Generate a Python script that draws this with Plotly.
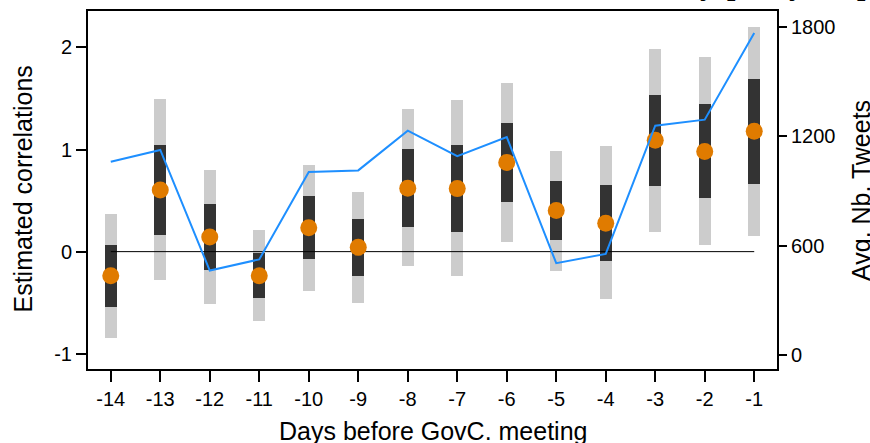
import plotly.graph_objects as go

days = [-14, -13, -12, -11, -10, -9, -8, -7, -6, -5, -4, -3, -2, -1]
estimate = [-0.237, 0.604, 0.143, -0.237, 0.234, 0.042, 0.620, 0.617, 0.873, 0.402, 0.279, 1.091, 0.980, 1.178]
ci90_low = [-0.540, 0.162, -0.178, -0.455, -0.075, -0.234, 0.240, 0.188, 0.484, 0.110, -0.091, 0.640, 0.523, 0.665]
ci90_high = [0.065, 1.049, 0.470, -0.013, 0.542, 0.315, 1.006, 1.049, 1.263, 0.691, 0.655, 1.535, 1.444, 1.691]
ci95_low = [-0.844, -0.282, -0.509, -0.682, -0.386, -0.506, -0.143, -0.243, 0.091, -0.185, -0.467, 0.192, 0.062, 0.153]
ci95_high = [0.367, 1.497, 0.795, 0.211, 0.850, 0.587, 1.392, 1.480, 1.655, 0.983, 1.032, 1.986, 1.905, 2.204]
avg_tweets = [1060, 1125, 464, 525, 1004, 1013, 1231, 1091, 1196, 504, 555, 1258, 1291, 1767]

x_ticklabels = [str(d) for d in days]
y_ticks = [-1, 0, 1, 2]
y_ticklabels = ["-1", "0", "1", "2"]
y2_ticks = [0, 600, 1200, 1800]
y2_ticklabels = ["0", "600", "1200", "1800"]

# fragments of the page text cut off above the chart (only descenders visible)
top_fragments = ["y", "p", "y", "p"]
top_fragment_px = [707, 735, 796, 865]

FONT = "Liberation Sans, Arial, sans-serif"
fig = go.Figure()

fig.add_trace(go.Bar(
    x=days, y=[h - l for h, l in zip(ci95_high, ci95_low)], base=ci95_low,
    width=0.24, marker=dict(color="#cccccc", line=dict(width=0)),
    showlegend=False, hoverinfo="skip"))
fig.add_trace(go.Bar(
    x=days, y=[h - l for h, l in zip(ci90_high, ci90_low)], base=ci90_low,
    width=0.24, marker=dict(color="#333333", line=dict(width=0)),
    showlegend=False, hoverinfo="skip"))
fig.add_trace(go.Scatter(
    x=[days[0], days[-1]], y=[0, 0], mode="lines",
    line=dict(color="#000000", width=1), showlegend=False, hoverinfo="skip"))
fig.add_trace(go.Scatter(
    x=days, y=estimate, mode="markers",
    marker=dict(color="#e07b00", size=17, line=dict(width=0)),
    showlegend=False))
fig.add_trace(go.Scatter(
    x=days, y=avg_tweets, mode="lines", yaxis="y2",
    line=dict(color="#1e8fff", width=2), showlegend=False))

PL, PR, PT, PB = 88, 777, 9, 369
W, H = 870, 443

def px_x(p):
    return (p - PL) / (PR - PL)

def px_y(p):
    return (PB - p) / (PB - PT)

annotations = [
    dict(text="Days before GovC. meeting", xref="paper", yref="paper",
         x=px_x(432.5), y=px_y(415), xanchor="center", yanchor="top",
         showarrow=False, font=dict(size=25)),
    dict(text="Estimated correlations", xref="paper", yref="paper",
         x=px_x(23), y=px_y(188.5), xanchor="center", yanchor="middle",
         textangle=-90, showarrow=False, font=dict(size=25)),
    dict(text="Avg. Nb. Tweets", xref="paper", yref="paper",
         x=px_x(861), y=px_y(190), xanchor="center", yanchor="middle",
         textangle=-90, showarrow=False, font=dict(size=25)),
]
for t, xp in zip(top_fragments, top_fragment_px):
    annotations.append(dict(
        text="<b>%s</b>" % t, xref="paper", yref="paper",
        x=px_x(xp), y=px_y(1), xanchor="center", yanchor="bottom",
        showarrow=False,
        font=dict(size=30, family="Liberation Serif, Times New Roman, serif")))

fig.update_layout(
    width=W, height=H,
    margin=dict(l=PL, r=W - PR, t=PT, b=H - PB, pad=0),
    paper_bgcolor="white", plot_bgcolor="white",
    barmode="overlay", bargap=0,
    font=dict(family=FONT, size=20, color="#000000"),
    xaxis=dict(
        range=[-14.46, -0.54], tickvals=days, ticktext=x_ticklabels,
        showline=True, linecolor="#000000", linewidth=2, mirror=True,
        ticks="outside", ticklen=11, tickwidth=1.5, tickcolor="#000000",
        showgrid=False, zeroline=False, tickfont=dict(size=20)),
    yaxis=dict(
        range=[-1.149, 2.356], tickvals=y_ticks, ticktext=y_ticklabels,
        showline=True, linecolor="#000000", linewidth=2,
        ticks="outside", ticklen=10, tickwidth=1.5, tickcolor="#000000",
        showgrid=False, zeroline=False, tickfont=dict(size=20)),
    yaxis2=dict(
        range=[-76, 1887], tickvals=y2_ticks, ticktext=y2_ticklabels,
        overlaying="y", side="right",
        showline=True, linecolor="#000000", linewidth=2,
        ticks="outside", ticklen=8, tickwidth=1.5, tickcolor="#000000",
        showgrid=False, zeroline=False, tickfont=dict(size=20)),
    annotations=annotations,
)

fig.write_html("out.html", config={"displayModeBar": False},
               post_script="document.body.style.margin='0px';document.body.style.overflow='hidden';")
